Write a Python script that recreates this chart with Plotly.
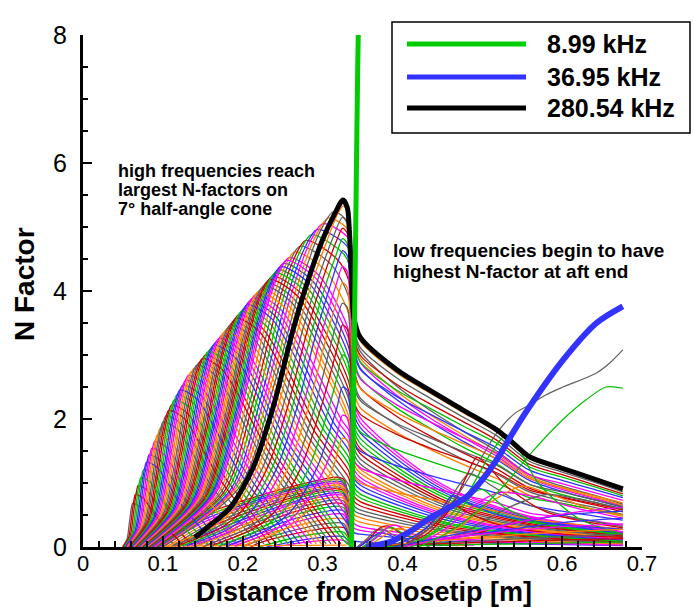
import plotly.graph_objects as go

# ---------------- data ----------------
X_TICKS = [0, 0.1, 0.2, 0.3, 0.4, 0.5, 0.6, 0.7]
Y_TICKS = [0, 2, 4, 6, 8]
LEGEND_NAMES = ["8.99 kHz", "36.95 kHz", "280.54 kHz"]
PALETTE = ["#d00000", "#00c000", "#3030ff", "#ff00ff", "#ff8000", "#606060"]

# upper lobes on the cone (x [m], N)
LOBES = [
    [(.0494, 0), (.0551, .12), (.0576, .33), (.0595, .52), (.061, .64), (.062, .68), (.0701, .64), (.089, .34), (.116, .02)],
    [(.0508, 0), (.059, .17), (.0626, .46), (.0654, .74), (.0675, .90), (.069, .96), (.0792, .90), (.103, .48), (.137, .03)],
    [(.0522, 0), (.0629, .22), (.0677, .58), (.0712, .93), (.0741, 1.14), (.076, 1.21), (.0881, 1.14), (.1163, .61), (.1565, .04)],
    [(.0536, 0), (.0668, .26), (.0727, .69), (.0771, 1.11), (.0806, 1.35), (.083, 1.44), (.0968, 1.35), (.129, .72), (.175, .04)],
    [(.055, 0), (.0708, .30), (.0778, .79), (.083, 1.27), (.0872, 1.55), (.090, 1.65), (.1054, 1.55), (.1413, .83), (.1925, .05)],
    [(.0564, 0), (.0747, .33), (.0828, .89), (.0889, 1.43), (.0938, 1.75), (.097, 1.86), (.114, 1.75), (.1535, .93), (.210, .05)],
    [(.0578, 0), (.0786, .37), (.0878, .98), (.0948, 1.58), (.1003, 1.93), (.104, 2.05), (.1224, 1.93), (.1653, 1.03), (.2265, .05)],
    [(.0592, 0), (.0825, .40), (.0929, 1.07), (.1006, 1.71), (.1069, 2.09), (.111, 2.22), (.1307, 2.09), (.1765, 1.11), (.242, .05)],
    [(.0606, 0), (.0864, .43), (.0979, 1.14), (.1065, 1.83), (.1134, 2.24), (.118, 2.38), (.1389, 2.24), (.1875, 1.19), (.257, .05)],
    [(.062, 0), (.0904, .46), (.103, 1.21), (.1124, 1.95), (.120, 2.38), (.125, 2.53), (.147, 2.38), (.1983, 1.27), (.2715, .05)],
    [(.0634, 0), (.0943, .48), (.108, 1.29), (.1183, 2.06), (.1265, 2.52), (.132, 2.68), (.1551, 2.52), (.209, 1.34), (.286, .05)],
    [(.0648, 0), (.0982, .50), (.113, 1.34), (.1242, 2.15), (.1331, 2.62), (.139, 2.79), (.1629, 2.62), (.2188, 1.40), (.2985, .05)],
    [(.0662, 0), (.1021, .52), (.1181, 1.39), (.130, 2.23), (.1396, 2.72), (.146, 2.89), (.1707, 2.72), (.2283, 1.45), (.3105, .05)],
    [(.0676, 0), (.106, .54), (.1231, 1.44), (.1359, 2.31), (.1462, 2.82), (.153, 3.00), (.1785, 2.82), (.238, 1.50), (.323, .05)],
    [(.069, 0), (.110, .56), (.1282, 1.49), (.1418, 2.39), (.1527, 2.91), (.160, 3.10), (.1863, 2.91), (.2475, 1.55), (.333, .08), (.338, .03)],
    [(.0704, 0), (.1139, .58), (.1332, 1.54), (.1477, 2.47), (.1593, 3.02), (.167, 3.21), (.1941, 3.02), (.2573, 1.61), (.333, .34), (.336, .28), (.34, .22), (.347, .20), (.40, .14), (.46, .09), (.55, .05), (.676, .02)],
    [(.0718, 0), (.1178, .60), (.1382, 1.59), (.1536, 2.55), (.1658, 3.11), (.174, 3.31), (.2018, 3.11), (.2668, 1.66), (.333, .54), (.336, .44), (.34, .36), (.347, .32), (.40, .22), (.46, .14), (.55, .08), (.676, .04)],
    [(.0732, 0), (.1217, .62), (.1433, 1.64), (.1594, 2.63), (.1724, 3.21), (.181, 3.42), (.2097, 3.21), (.2765, 1.71), (.333, .76), (.336, .62), (.34, .50), (.347, .46), (.40, .32), (.46, .21), (.55, .12), (.676, .06)],
    [(.0746, 0), (.1256, .63), (.1483, 1.69), (.1653, 2.71), (.1789, 3.31), (.188, 3.52), (.2174, 3.31), (.286, 1.76), (.333, .96), (.336, .79), (.34, .63), (.347, .58), (.40, .41), (.46, .26), (.55, .15), (.676, .07)],
    [(.076, 0), (.1296, .65), (.1534, 1.74), (.1712, 2.80), (.1855, 3.41), (.195, 3.63), (.2252, 3.41), (.2958, 1.82), (.333, 1.18), (.336, .97), (.34, .78), (.347, .71), (.40, .50), (.46, .32), (.55, .18), (.676, .09)],
    [(.0774, 0), (.1335, .67), (.1584, 1.79), (.1771, 2.87), (.192, 3.51), (.202, 3.73), (.233, 3.51), (.3053, 1.87), (.333, 1.39), (.336, 1.14), (.34, .92), (.347, .83), (.40, .58), (.46, .37), (.55, .21), (.676, .10)],
    [(.0788, 0), (.1374, .69), (.1634, 1.84), (.183, 2.96), (.1986, 3.61), (.209, 3.84), (.2408, 3.61), (.315, 1.92), (.333, 1.61), (.336, 1.32), (.34, 1.06), (.347, .97), (.40, .68), (.46, .44), (.55, .24), (.676, .12)],
    [(.0802, 0), (.1413, .71), (.1685, 1.89), (.1888, 3.03), (.2051, 3.70), (.216, 3.94), (.2486, 3.70), (.3245, 1.97), (.333, 1.82), (.336, 1.49), (.34, 1.20), (.347, 1.09), (.40, .76), (.46, .49), (.55, .27), (.676, .13)],
    [(.0816, 0), (.1452, .73), (.1735, 1.93), (.1947, 3.10), (.2117, 3.79), (.223, 4.03), (.2562, 3.79), (.333, 2.03), (.336, 1.66), (.34, 1.34), (.347, 1.22), (.40, .85), (.46, .55), (.55, .31), (.676, .15)],
    [(.083, 0), (.1492, .74), (.1786, 1.98), (.2006, 3.18), (.2182, 3.88), (.230, 4.13), (.264, 3.88), (.333, 2.30), (.336, 1.89), (.34, 1.52), (.347, 1.38), (.40, .97), (.46, .62), (.55, .35), (.676, .17)],
    [(.0844, 0), (.1531, .76), (.1836, 2.03), (.2065, 3.26), (.2248, 3.98), (.237, 4.23), (.2717, 3.98), (.333, 2.57), (.336, 2.11), (.34, 1.70), (.347, 1.54), (.40, 1.08), (.46, .69), (.55, .39), (.676, .18)],
    [(.0858, 0), (.157, .78), (.1886, 2.08), (.2124, 3.33), (.2313, 4.07), (.244, 4.33), (.2795, 4.07), (.333, 2.84), (.336, 2.33), (.34, 1.87), (.347, 1.70), (.40, 1.19), (.46, .77), (.55, .43), (.676, .20)],
    [(.0872, 0), (.1609, .80), (.1937, 2.13), (.2182, 3.41), (.2379, 4.16), (.251, 4.43), (.2872, 4.16), (.333, 3.11), (.336, 2.55), (.34, 2.05), (.347, 1.87), (.40, 1.31), (.46, .84), (.55, .47), (.676, .22)],
    [(.0886, 0), (.1648, .81), (.1987, 2.17), (.2241, 3.48), (.2444, 4.25), (.258, 4.52), (.2949, 4.25), (.333, 3.37), (.336, 2.76), (.34, 2.22), (.347, 2.02), (.40, 1.41), (.46, .91), (.55, .51), (.676, .24)],
    [(.09, 0), (.1688, .83), (.2038, 2.21), (.23, 3.55), (.251, 4.33), (.265, 4.61), (.3026, 4.33), (.333, 3.63), (.336, 2.98), (.34, 2.40), (.347, 2.18), (.393, 1.79), (.434, 1.53), (.476, 1.29), (.518, 1.07), (.559, .81), (.60, .68), (.643, .57), (.676, .48)],
    [(.0914, 0), (.1727, .85), (.2088, 2.26), (.2359, 3.62), (.2576, 4.42), (.272, 4.70), (.3103, 4.42), (.333, 3.89), (.336, 3.19), (.34, 2.57), (.347, 2.33), (.393, 1.91), (.434, 1.63), (.476, 1.37), (.518, 1.14), (.559, .86), (.60, .72), (.643, .61), (.676, .51)],
    [(.0928, 0), (.1766, .86), (.2138, 2.30), (.2418, 3.69), (.2641, 4.50), (.279, 4.79), (.3179, 4.50), (.333, 4.15), (.336, 3.40), (.34, 2.74), (.347, 2.49), (.393, 2.04), (.434, 1.74), (.476, 1.47), (.518, 1.22), (.559, .92), (.60, .77), (.643, .65), (.676, .55)],
    [(.0942, 0), (.1805, .88), (.2189, 2.34), (.2476, 3.76), (.2707, 4.59), (.286, 4.88), (.3256, 4.59), (.333, 4.42), (.336, 3.62), (.34, 2.92), (.347, 2.65), (.393, 2.17), (.434, 1.86), (.476, 1.56), (.518, 1.30), (.559, .98), (.60, .82), (.643, .69), (.676, .58)],
    [(.0956, 0), (.1844, .89), (.2239, 2.38), (.2535, 3.82), (.2772, 4.66), (.293, 4.96), (.333, 4.66), (.336, 3.82), (.34, 3.08), (.347, 2.80), (.393, 2.30), (.434, 1.96), (.476, 1.65), (.518, 1.37), (.559, 1.04), (.60, .87), (.643, .73), (.676, .62)],
    [(.097, 0), (.1884, .91), (.229, 2.42), (.2594, 3.89), (.2838, 4.75), (.300, 5.05), (.333, 4.81), (.336, 3.94), (.34, 3.17), (.347, 2.89), (.393, 2.37), (.434, 2.02), (.476, 1.71), (.518, 1.42), (.559, 1.07), (.60, .90), (.643, .75), (.676, .64)],
    [(.0984, 0), (.1923, .93), (.234, 2.47), (.2653, 3.96), (.2903, 4.83), (.307, 5.14), (.333, 4.94), (.336, 4.05), (.34, 3.26), (.347, 2.96), (.393, 2.43), (.434, 2.07), (.476, 1.75), (.518, 1.45), (.559, 1.10), (.60, .92), (.643, .77), (.676, .65)],
    [(.0998, 0), (.1962, .94), (.239, 2.52), (.2712, 4.03), (.2969, 4.93), (.314, 5.24), (.333, 5.05), (.336, 4.18), (.34, 3.37), (.347, 3.06), (.393, 2.51), (.434, 2.14), (.476, 1.81), (.518, 1.50), (.559, 1.13), (.60, .95), (.643, .80), (.676, .67)],
]

# further lobes read between the ones above (the picture is very dense there)
MID_LOBES = [
    [(.0501, 0), (.0571, .145), (.0601, .395), (.0625, .63), (.0643, .77), (.0655, .82), (.0747, .77), (.096, .41), (.1265, .025)],
    [(.0515, 0), (.061, .195), (.0652, .52), (.0683, .835), (.0708, 1.02), (.0725, 1.085), (.0837, 1.02), (.1097, .545), (.1468, .035)],
    [(.0529, 0), (.0649, .24), (.0702, .635), (.0742, 1.02), (.0774, 1.245), (.0795, 1.325), (.0925, 1.245), (.1227, .665), (.1658, .04)],
    [(.0543, 0), (.0688, .28), (.0753, .74), (.0801, 1.19), (.0839, 1.45), (.0865, 1.545), (.1011, 1.45), (.1352, .775), (.1838, .045)],
    [(.0557, 0), (.0728, .315), (.0803, .84), (.086, 1.35), (.0905, 1.65), (.0935, 1.755), (.1097, 1.65), (.1474, .88), (.2013, .05)],
    [(.0571, 0), (.0767, .35), (.0853, .935), (.0919, 1.505), (.0971, 1.84), (.1005, 1.955), (.1182, 1.84), (.1594, .98), (.2183, .05)],
    [(.0585, 0), (.0806, .385), (.0904, 1.025), (.0977, 1.645), (.1036, 2.01), (.1075, 2.135), (.1266, 2.01), (.1709, 1.07), (.2343, .05)],
    [(.0599, 0), (.0845, .415), (.0954, 1.105), (.1036, 1.77), (.1102, 2.165), (.1145, 2.30), (.1348, 2.165), (.182, 1.15), (.2495, .05)],
    [(.0613, 0), (.0884, .445), (.1005, 1.175), (.1095, 1.89), (.1167, 2.31), (.1215, 2.455), (.143, 2.31), (.1929, 1.23), (.2643, .05)],
    [(.0627, 0), (.0924, .47), (.1055, 1.25), (.1154, 2.005), (.1233, 2.45), (.1285, 2.605), (.1511, 2.45), (.2037, 1.305), (.2788, .05)],
    [(.0641, 0), (.0963, .49), (.1105, 1.315), (.1213, 2.105), (.1298, 2.57), (.1355, 2.735), (.159, 2.57), (.2139, 1.37), (.2923, .05)],
    [(.0655, 0), (.1002, .51), (.1156, 1.365), (.1271, 2.19), (.1364, 2.67), (.1425, 2.84), (.1668, 2.67), (.2236, 1.425), (.3045, .05)],
    [(.0669, 0), (.1041, .53), (.1206, 1.415), (.133, 2.27), (.1429, 2.77), (.1495, 2.945), (.1746, 2.77), (.2332, 1.475), (.3168, .05)],
    [(.0683, 0), (.108, .55), (.1257, 1.465), (.1389, 2.35), (.1495, 2.865), (.1565, 3.05), (.1824, 2.865), (.2428, 1.525), (.33, .06), (.336, .02)],
    [(.0697, 0), (.112, .57), (.1307, 1.515), (.1448, 2.43), (.156, 2.965), (.1635, 3.155), (.1902, 2.965), (.2524, 1.58), (.333, .21), (.338, .10), (.347, .08), (.40, .05), (.46, .03)],
    [(.0711, 0), (.1159, .59), (.1357, 1.565), (.1507, 2.51), (.1626, 3.065), (.1705, 3.26), (.198, 3.065), (.2621, 1.635), (.333, .44), (.336, .36), (.34, .29), (.347, .26), (.40, .18), (.46, .115), (.55, .065), (.676, .03)],
    [(.0725, 0), (.1198, .61), (.1408, 1.615), (.1565, 2.59), (.1691, 3.16), (.1775, 3.365), (.2058, 3.16), (.2717, 1.685), (.333, .65), (.336, .53), (.34, .43), (.347, .39), (.40, .27), (.46, .175), (.55, .10), (.676, .05)],
    [(.0739, 0), (.1237, .625), (.1458, 1.665), (.1624, 2.67), (.1757, 3.26), (.1845, 3.47), (.2136, 3.26), (.2813, 1.735), (.333, .86), (.336, .705), (.34, .565), (.347, .52), (.40, .365), (.46, .235), (.55, .135), (.676, .065)],
    [(.0753, 0), (.1276, .64), (.1509, 1.715), (.1683, 2.755), (.1822, 3.36), (.1915, 3.575), (.2213, 3.36), (.2909, 1.79), (.333, 1.07), (.336, .88), (.34, .705), (.347, .645), (.40, .455), (.46, .29), (.55, .165), (.676, .08)],
    [(.0767, 0), (.1316, .66), (.1559, 1.765), (.1742, 2.835), (.1888, 3.46), (.1985, 3.68), (.2291, 3.46), (.3006, 1.845), (.333, 1.285), (.336, 1.055), (.34, .85), (.347, .77), (.40, .54), (.46, .345), (.55, .195), (.676, .095)],
    [(.0781, 0), (.1355, .68), (.1609, 1.815), (.1801, 2.915), (.1953, 3.56), (.2055, 3.785), (.2369, 3.56), (.3102, 1.895), (.333, 1.50), (.336, 1.23), (.34, .99), (.347, .90), (.40, .63), (.46, .405), (.55, .225), (.676, .11)],
    [(.0795, 0), (.1394, .70), (.166, 1.865), (.1859, 2.995), (.2019, 3.655), (.2125, 3.89), (.2447, 3.655), (.32, 1.945), (.333, 1.715), (.336, 1.405), (.34, 1.13), (.347, 1.03), (.40, .72), (.46, .465), (.55, .255), (.676, .125)],
    [(.0809, 0), (.1433, .72), (.171, 1.91), (.1918, 3.065), (.2084, 3.745), (.2195, 3.985), (.2524, 3.745), (.333, 1.925), (.336, 1.575), (.34, 1.27), (.347, 1.155), (.40, .805), (.46, .52), (.55, .29), (.676, .14)],
    [(.0823, 0), (.1472, .735), (.1761, 1.955), (.1977, 3.14), (.215, 3.835), (.2265, 4.08), (.2601, 3.835), (.333, 2.165), (.336, 1.775), (.34, 1.43), (.347, 1.30), (.40, .91), (.46, .585), (.55, .33), (.676, .16)],
    [(.0837, 0), (.1512, .75), (.1811, 2.005), (.2036, 3.22), (.2215, 3.93), (.2335, 4.18), (.2679, 3.93), (.333, 2.435), (.336, 2.0), (.34, 1.61), (.347, 1.46), (.40, 1.025), (.46, .655), (.55, .37), (.676, .175)],
    [(.0851, 0), (.1551, .77), (.1861, 2.055), (.2095, 3.295), (.2281, 4.025), (.2405, 4.28), (.2756, 4.025), (.333, 2.705), (.336, 2.22), (.34, 1.785), (.347, 1.62), (.40, 1.135), (.46, .73), (.55, .41), (.676, .19)],
    [(.0865, 0), (.159, .79), (.1912, 2.105), (.2153, 3.37), (.2346, 4.115), (.2475, 4.38), (.2834, 4.115), (.333, 2.975), (.336, 2.44), (.34, 1.96), (.347, 1.785), (.40, 1.25), (.46, .805), (.55, .45), (.676, .21)],
    [(.0879, 0), (.1629, .805), (.1962, 2.15), (.2212, 3.445), (.2412, 4.205), (.2545, 4.475), (.2911, 4.205), (.333, 3.24), (.336, 2.655), (.34, 2.135), (.347, 1.945), (.40, 1.36), (.46, .875), (.55, .49), (.676, .23)],
]

# curves peaking at the end of the cone (right of the 280.54 kHz curve)
END_PEAK = [
    [(.106, .02), (.161, .3), (.19, .61), (.219, 1.24), (.244, 2.18), (.269, 3.39), (.286, 4.1), (.306, 4.8), (.318, 5.18), (.326, 5.33), (.331, 5.22), (.335, 4.45), (.339, 3.55), (.347, 3.22), (.393, 2.72), (.434, 2.41), (.476, 2.10), (.518, 1.80), (.559, 1.38), (.60, 1.21), (.643, 1.03), (.676, .89)],
    [(.112, .02), (.167, .3), (.196, .61), (.225, 1.24), (.25, 2.18), (.275, 3.39), (.292, 4.1), (.312, 4.8), (.325, 5.15), (.331, 5.05), (.335, 4.3), (.339, 3.45), (.347, 3.12), (.393, 2.64), (.434, 2.33), (.476, 2.03), (.518, 1.74), (.559, 1.34), (.60, 1.17), (.643, 1.00), (.676, .86)],
    [(.118, .02), (.173, .3), (.202, .61), (.231, 1.24), (.256, 2.18), (.281, 3.39), (.298, 4.1), (.318, 4.8), (.325, 4.98), (.331, 4.9), (.335, 4.15), (.339, 3.3), (.347, 3.0), (.393, 2.54), (.434, 2.24), (.476, 1.96), (.518, 1.67), (.559, 1.29), (.60, 1.13), (.643, .96), (.676, .83)],
    [(.124, .02), (.179, .3), (.208, .61), (.237, 1.24), (.262, 2.18), (.287, 3.39), (.304, 4.1), (.318, 4.6), (.325, 4.82), (.331, 4.74), (.335, 4.0), (.339, 3.2), (.347, 2.9), (.393, 2.45), (.434, 2.17), (.476, 1.89), (.518, 1.62), (.559, 1.25), (.60, 1.09), (.643, .93), (.676, .80)],
    [(.13, .02), (.185, .3), (.214, .61), (.243, 1.24), (.268, 2.18), (.293, 3.39), (.31, 4.1), (.319, 4.45), (.325, 4.63), (.331, 4.55), (.335, 3.85), (.339, 3.06), (.347, 2.78), (.393, 2.35), (.434, 2.08), (.476, 1.81), (.518, 1.55), (.559, 1.20), (.60, 1.04), (.643, .89), (.676, .77)],
    [(.137, .02), (.192, .3), (.221, .61), (.25, 1.24), (.275, 2.18), (.30, 3.39), (.317, 4.1), (.325, 4.38), (.331, 4.3), (.335, 3.64), (.339, 2.9), (.347, 2.63), (.393, 2.22), (.434, 1.96), (.476, 1.71), (.518, 1.47), (.559, 1.13), (.60, .99), (.643, .84), (.676, .73)],
    [(.144, .02), (.199, .3), (.228, .61), (.257, 1.24), (.282, 2.18), (.307, 3.39), (.318, 3.85), (.325, 4.13), (.331, 4.05), (.335, 3.43), (.339, 2.73), (.347, 2.48), (.393, 2.10), (.434, 1.85), (.476, 1.62), (.518, 1.38), (.559, 1.07), (.60, .93), (.643, .79), (.676, .69)],
    [(.152, .02), (.207, .3), (.236, .61), (.265, 1.24), (.29, 2.18), (.315, 3.39), (.325, 3.81), (.331, 3.74), (.335, 3.16), (.339, 2.52), (.347, 2.29), (.393, 1.93), (.434, 1.71), (.476, 1.49), (.518, 1.28), (.559, .98), (.60, .86), (.643, .73), (.676, .63)],
    [(.16, .02), (.215, .3), (.244, .61), (.273, 1.24), (.298, 2.18), (.318, 3.1), (.325, 3.47), (.331, 3.4), (.335, 2.88), (.339, 2.29), (.347, 2.08), (.393, 1.76), (.434, 1.55), (.476, 1.36), (.518, 1.16), (.559, .89), (.60, .78), (.643, .67), (.676, .58)],
    [(.17, .02), (.225, .3), (.254, .61), (.283, 1.24), (.308, 2.18), (.318, 2.65), (.325, 3.0), (.331, 2.94), (.335, 2.49), (.339, 1.98), (.347, 1.8), (.393, 1.52), (.434, 1.34), (.476, 1.17), (.518, 1.00), (.559, .77), (.60, .68), (.643, .58), (.676, .50)],
    [(.18, .02), (.235, .3), (.264, .61), (.293, 1.24), (.318, 2.18), (.325, 2.5), (.331, 2.45), (.335, 2.08), (.339, 1.65), (.347, 1.5), (.393, 1.27), (.434, 1.12), (.476, .98), (.518, .84), (.559, .65), (.60, .56), (.643, .48), (.676, .42)],
    [(.19, .02), (.245, .3), (.274, .61), (.303, 1.24), (.318, 1.75), (.325, 2.06), (.331, 2.02), (.335, 1.71), (.339, 1.36), (.347, 1.24), (.393, 1.05), (.434, .93), (.476, .81), (.518, .69), (.559, .53), (.60, .47), (.643, .40), (.676, .34)],
    [(.2, .02), (.255, .3), (.284, .61), (.313, 1.24), (.325, 1.7), (.331, 1.67), (.335, 1.41), (.339, 1.12), (.347, 1.0), (.393, .85), (.434, .75), (.476, .65), (.518, .56), (.559, .43), (.60, .38), (.643, .32), (.676, .28)],
]

# slowly growing low-frequency band on the cone
BAND = [
    [(.085, 0), (.15, .50), (.22, .80), (.27, .97), (.318, 1.09), (.327, 1.05), (.336, .03)],
    [(.09, 0), (.15, .46), (.22, .77), (.27, .94), (.318, 1.06), (.327, 1.02), (.336, .03)],
    [(.095, 0), (.15, .42), (.22, .74), (.27, .92), (.318, 1.03), (.327, .99), (.336, .03)],
    [(.10, 0), (.15, .38), (.22, .71), (.27, .89), (.318, 1.00), (.327, .96), (.336, .03)],
    [(.105, 0), (.15, .34), (.22, .68), (.27, .86), (.318, .97), (.327, .93), (.336, .03)],
    [(.11, 0), (.15, .30), (.22, .64), (.27, .83), (.318, .94), (.327, .90), (.336, .03)],
    [(.115, 0), (.15, .26), (.22, .60), (.27, .80), (.318, .91), (.327, .87), (.336, .03)],
    [(.12, 0), (.15, .22), (.22, .56), (.27, .77), (.318, .88), (.327, .84), (.336, .03)],
    [(.125, 0), (.15, .18), (.22, .52), (.27, .73), (.318, .85), (.327, .82), (.336, .03)],
    [(.13, 0), (.15, .14), (.22, .48), (.27, .70), (.318, .82), (.327, .79), (.336, .03)],
    [(.135, 0), (.15, .10), (.22, .44), (.27, .66), (.318, .78), (.327, .75), (.336, .03)],
    [(.14, 0), (.15, .06), (.22, .40), (.27, .62), (.318, .74), (.327, .71), (.336, .03)],
    [(.15, 0), (.22, .35), (.27, .57), (.318, .69), (.327, .66), (.336, .03)],
    [(.16, 0), (.22, .30), (.27, .52), (.318, .64), (.327, .61), (.336, .03)],
    [(.17, 0), (.22, .25), (.27, .46), (.318, .58), (.327, .56), (.336, .03)],
    [(.18, 0), (.22, .20), (.27, .40), (.318, .52), (.327, .50), (.336, .03)],
    [(.19, 0), (.22, .15), (.27, .34), (.318, .45), (.327, .43), (.336, .03)],
    [(.20, 0), (.22, .10), (.27, .28), (.318, .38), (.327, .36), (.336, .03)],
    [(.21, 0), (.22, .06), (.27, .22), (.318, .31), (.327, .30), (.336, .03)],
    [(.22, 0), (.27, .16), (.318, .24), (.327, .23), (.336, .02)],
    [(.23, 0), (.27, .10), (.318, .17), (.327, .16), (.336, .02)],
    [(.24, 0), (.27, .06), (.318, .11), (.327, .10), (.336, .02)],
    [(.05, .01), (.2, .02), (.33, .03)],
]

# curves growing on the aft section
AFT = [
    [(.343, 0), (.355, .12), (.365, .25), (.375, .28), (.39, .18), (.42, .06), (.46, .02)],
    [(.346, 0), (.36, .15), (.372, .30), (.382, .33), (.397, .22), (.43, .07), (.47, .02)],
    [(.35, 0), (.365, .14), (.378, .28), (.388, .30), (.402, .20), (.435, .07), (.48, .02)],
    [(.345, 0), (.357, .10), (.368, .20), (.377, .22), (.39, .15), (.42, .05), (.45, .02)],
    [(.352, 0), (.37, .17), (.382, .31), (.392, .34), (.405, .25), (.44, .08), (.49, .03)],
    [(.356, 0), (.375, .16), (.388, .27), (.398, .29), (.412, .21), (.445, .07), (.48, .02)],
    [(.38, 0), (.42, .20), (.45, .55), (.47, .95), (.484, 1.15), (.50, 1.05), (.54, .75), (.60, .50), (.676, .32)],
    [(.39, 0), (.43, .20), (.46, .60), (.48, 1.10), (.493, 1.40), (.505, 1.30), (.53, .95), (.58, .55), (.676, .30)],
    [(.40, 0), (.44, .25), (.48, .80), (.51, 1.45), (.53, 1.75), (.545, 1.55), (.57, 1.00), (.62, .45), (.676, .20)],
    [(.39, 0), (.43, .30), (.45, .60), (.462, .80), (.48, .70), (.52, .50), (.60, .35), (.676, .28)],
    [(.41, 0), (.45, .25), (.49, .65), (.52, .85), (.56, .80), (.62, .60), (.676, .45)],
    [(.42, 0), (.47, .30), (.51, .70), (.55, .95), (.58, .85), (.63, .62), (.676, .50)],
    [(.43, 0), (.48, .25), (.53, .60), (.58, .82), (.62, .75), (.676, .60)],
    [(.40, 0), (.44, .35), (.465, .65), (.48, .55), (.52, .35), (.60, .20), (.676, .15)],
    [(.41, 0), (.46, .40), (.49, .85), (.50, .90), (.53, .60), (.58, .35), (.676, .20)],
    [(.38, 0), (.45, .12), (.52, .25), (.60, .38), (.676, .45)],
    [(.37, 0), (.44, .10), (.50, .20), (.58, .30), (.676, .36)],
    [(.36, 0), (.43, .08), (.50, .15), (.58, .22), (.676, .28)],
    [(.36, 0), (.42, .05), (.50, .10), (.60, .16), (.676, .20)],
    [(.35, 0), (.42, .04), (.50, .07), (.60, .11), (.676, .13)],
    [(.35, 0), (.45, .03), (.55, .05), (.676, .08)],
    [(.39, 0), (.46, .18), (.53, .35), (.60, .50), (.676, .56)],
    [(.40, 0), (.48, .20), (.55, .40), (.62, .55), (.676, .62)],
]
AFT_GRAY = [(.40, 0), (.43, .25), (.455, .58), (.476, .94), (.497, 1.36), (.518, 1.78), (.54, 2.08), (.559, 2.22), (.58, 2.38), (.601, 2.50), (.643, 2.72), (.66, 2.88), (.676, 3.08)]
AFT_GREEN = [(.42, 0), (.46, .25), (.50, .62), (.53, 1.0), (.56, 1.45), (.60, 1.98), (.63, 2.30), (.655, 2.50), (.676, 2.48)]

# highlighted frequencies
F_8_99 = [(.336, 0), (.338, 1.5), (.340, 3.5), (.342, 5.5), (.344, 7.5), (.3455, 8.6)]
F_36_95 = [(.355, 0), (.385, .08), (.413, .27), (.434, .45), (.459, .62), (.48, .78), (.50, 1.05), (.518, 1.36), (.538, 1.78), (.559, 2.19), (.601, 2.92), (.643, 3.50), (.676, 3.76)]
F_280_54 = [(.14, .15), (.155, .3), (.184, .61), (.213, 1.24), (.238, 2.18), (.263, 3.39), (.28, 4.1), (.30, 4.8), (.315, 5.2), (.3255, 5.42), (.331, 5.3), (.3335, 4.95), (.336, 4.3), (.339, 3.6), (.347, 3.28), (.393, 2.77), (.434, 2.45), (.476, 2.14), (.518, 1.83), (.538, 1.63), (.559, 1.41), (.60, 1.23), (.643, 1.05), (.676, .91)]

# ---------------- figure ----------------
fig = go.Figure()


def add_curve(pts, color, width):
    fig.add_trace(go.Scatter(
        x=[p[0] for p in pts], y=[p[1] for p in pts], mode="lines",
        line=dict(color=color, width=width, shape="spline", smoothing=0.8),
        hoverinfo="skip", showlegend=False))


k = 0
for group in (BAND, LOBES, MID_LOBES, END_PEAK, AFT):
    for c in group:
        add_curve(c, PALETTE[k % len(PALETTE)], 1.3)
        k += 1
add_curve(AFT_GRAY, "#606060", 1.2)
add_curve(AFT_GREEN, "#00c000", 1.2)
add_curve(F_280_54, "#000000", 5)
add_curve(F_36_95, "#3333ff", 6)
add_curve(F_8_99, "#00cc00", 5)

FONT = "Liberation Sans, Arial, sans-serif"

fig.update_layout(
    width=694, height=607,
    margin=dict(l=83, r=52, t=35, b=60),
    plot_bgcolor="white", paper_bgcolor="white",
    showlegend=False,
)
fig.update_xaxes(
    range=[0, 0.7], tickvals=X_TICKS, ticktext=[f"{v:g}" for v in X_TICKS],
    showline=True, linewidth=3, linecolor="black", mirror=False,
    ticks="inside", ticklen=11, tickwidth=2, tickcolor="black",
    minor=dict(dtick=0.02, ticks="inside", ticklen=6, tickwidth=1.5, tickcolor="black"),
    showgrid=False, zeroline=False, ticklabelstandoff=-5,
    tickfont=dict(family=FONT, size=22, color="black"),
)
fig.update_yaxes(
    range=[0, 8], tickvals=Y_TICKS, ticktext=[str(v) for v in Y_TICKS],
    showline=True, linewidth=3, linecolor="black", mirror=False,
    ticks="inside", ticklen=9, tickwidth=2, tickcolor="black",
    minor=dict(dtick=0.5, ticks="inside", ticklen=5, tickwidth=1.5, tickcolor="black"),
    showgrid=False, zeroline=False, ticklabelstandoff=8,
    tickfont=dict(family=FONT, size=25, color="black"),
)

PW, PH, L, T = 559.0, 512.0, 83.0, 35.0


def px(xp):
    return (xp - L) / PW


def py(yp):
    return (T + PH - yp) / PH


ann = []
ann.append(dict(text="<b>N Factor</b>", x=px(24), y=py(284), textangle=-90,
                font=dict(family=FONT, size=28, color="black")))
ann.append(dict(text="<b>Distance from Nosetip [m]</b>", x=px(364), y=py(592),
                font=dict(family=FONT, size=27, color="black")))
for i, line in enumerate(["high frequencies reach", "largest N-factors on", "7° half-angle cone"]):
    ann.append(dict(text=f"<b>{line}</b>", x=px(116), y=py(171 + 19 * i), xanchor="left",
                    font=dict(family=FONT, size=18, color="black")))
for i, line in enumerate(["low frequencies begin to have", "highest N-factor at aft end"]):
    ann.append(dict(text=f"<b>{line}</b>", x=px(391), y=py(250 + 21 * i), xanchor="left",
                    font=dict(family=FONT, size=19, color="black")))

LEGEND_Y = [44, 77, 108]
LEGEND_COLORS = ["#00cc00", "#3333ff", "#000000"]
shapes = [dict(type="rect", xref="paper", yref="paper", x0=px(392), x1=px(690), y0=py(133), y1=py(22),
               line=dict(color="black", width=1.5), fillcolor="white", layer="above")]
for name, yy, col in zip(LEGEND_NAMES, LEGEND_Y, LEGEND_COLORS):
    shapes.append(dict(type="line", xref="paper", yref="paper", x0=px(407), x1=px(526), y0=py(yy), y1=py(yy),
                       line=dict(color=col, width=5), layer="above"))
    ann.append(dict(text=f"<b>{name}</b>", x=px(545), y=py(yy), xanchor="left",
                    font=dict(family=FONT, size=25, color="black")))

for a in ann:
    a.setdefault("xref", "paper")
    a.setdefault("yref", "paper")
    a.setdefault("showarrow", False)
    a.setdefault("xanchor", "center")
    a.setdefault("yanchor", "middle")
fig.update_layout(annotations=ann, shapes=shapes)

fig.write_html("out.html")
